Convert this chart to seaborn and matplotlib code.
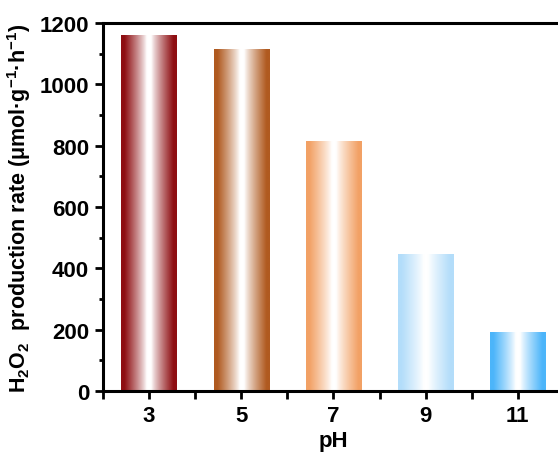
import numpy as np
import matplotlib
matplotlib.use("Agg")
import matplotlib.pyplot as plt
import seaborn as sns
from matplotlib.colors import to_rgb
from matplotlib.ticker import MultipleLocator

ph = [3, 5, 7, 9, 11]
rates = [1160, 1117, 815, 447, 194]
bar_colors = ["#8E0E12", "#B05A20", "#F2A165", "#B3DDFA", "#4CB5FA"]
y_ticks = [0, 200, 400, 600, 800, 1000, 1200]

sns.set_theme(style="ticks")
plt.rcParams['font.family'] = ['Liberation Sans', 'DejaVu Sans']
plt.rcParams['font.weight'] = 'bold'
plt.rcParams['text.color'] = 'black'
plt.rcParams['axes.labelcolor'] = 'black'
plt.rcParams['xtick.color'] = 'black'
plt.rcParams['ytick.color'] = 'black'
plt.rcParams['mathtext.fontset'] = 'custom'
plt.rcParams['mathtext.rm'] = 'Liberation Sans:bold'
plt.rcParams['mathtext.it'] = 'Liberation Sans:bold'
plt.rcParams['mathtext.bf'] = 'Liberation Sans:bold'
plt.rcParams['mathtext.default'] = 'rm'

fig = plt.figure(figsize=(5.58, 4.64), dpi=100)
ax = fig.add_axes([0.1846, 0.155, 0.826, 0.793])

sns.barplot(x=ph, y=rates, native_scale=True, width=0.6, ax=ax,
            color="white", linewidth=0, saturation=1)

for patch, c in zip(ax.patches, bar_colors):
    x0, y0 = patch.get_x(), patch.get_y()
    w, h = patch.get_width(), patch.get_height()
    t = np.linspace(-1, 1, 256)
    a = np.clip((np.abs(t) - 0.08) / 0.8, 0, 1) ** 0.85
    rgb = np.array(to_rgb(c))
    img = (1 - a)[:, None] * np.ones(3)[None, :] + a[:, None] * rgb[None, :]
    img = img[None, :, :]
    im = ax.imshow(img, extent=[x0, x0 + w, y0, y0 + h], aspect='auto',
                   interpolation='bilinear', zorder=2)
    im.set_clip_path(patch)
    patch.set_facecolor('none')

ax.set_xlim(2, 12)
ax.set_ylim(0, 1200)
ax.set_xticks(ph)
ax.set_xticklabels([str(v) for v in ph])
ax.xaxis.set_minor_locator(MultipleLocator(1))
ax.set_yticks(y_ticks)
ax.yaxis.set_minor_locator(MultipleLocator(100))

for s in ['left', 'bottom', 'top', 'right']:
    ax.spines[s].set_linewidth(2.2)
    ax.spines[s].set_color('black')

ax.tick_params(axis='both', which='major', direction='out', length=6, width=2,
               labelsize=16, pad=4, colors='black')
ax.tick_params(axis='x', which='minor', direction='out', length=6, width=2)
ax.tick_params(axis='y', which='minor', direction='out', length=3, width=2)
for lbl in ax.get_xticklabels() + ax.get_yticklabels():
    lbl.set_fontweight('bold')

ax.set_xlabel("pH", fontsize=16, fontweight='bold', labelpad=3)
ax.set_ylabel(r"H$_{2}$O$_{2}$  production rate (μmol·g$^{-1}$·h$^{-1}$)",
              fontsize=15.5, fontweight='bold', labelpad=5)

fig.savefig("out.png", dpi=100)
